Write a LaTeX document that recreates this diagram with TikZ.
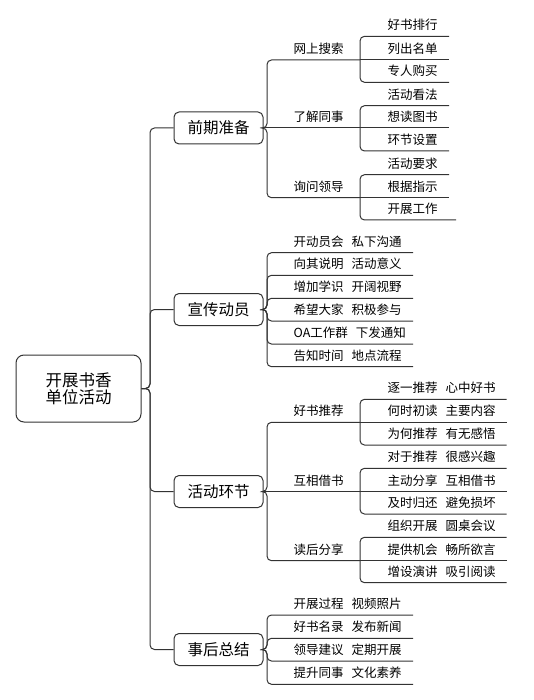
\documentclass[tikz,border=0pt]{standalone}
\usepackage{fontspec}
\newfontfamily\cjk{Noto Sans CJK SC}
\tikzset{
  conn/.style={draw=black!80, line width=1pt, rounded corners=4.5pt},
  lbox/.style={draw=black!80, line width=1pt, rounded corners=5pt, minimum width=89pt,
    minimum height=32pt, inner sep=0pt, font={\cjk\fontsize{15.5pt}{17pt}\selectfont}},
  rootbox/.style={draw=black!80, line width=1pt, rounded corners=8pt, minimum width=125pt,
    minimum height=67pt, inner sep=0pt, align=center, font={\cjk\fontsize{16.5pt}{16.5pt}\selectfont}},
  txt/.style={inner sep=0pt, anchor=base west, font={\cjk\fontsize{12.5pt}{14pt}\selectfont\spaceskip=8pt\relax}},
}
% name, bracket x, underline y, text x, underline end x, text
\newcommand\mmitem[6]{%
  \coordinate (#1-s) at (#2,#3);
  \coordinate (#1-e) at (#5,#3);
  \node[txt] (#1) at (#4,#3-6.5) {#6};}
\begin{document}
\begin{tikzpicture}[x=1pt,y=-1pt]
\useasboundingbox (0,0) rectangle (534,700);
% root and main branches
\node[rootbox] (root) at (78.5,388.5) {开展书香\\单位活动};
\coordinate (rj) at (150,388.5);
\node[lbox] (b1) at (218.5,128) {前期准备};
\node[lbox] (b2) at (218.5,309.5) {宣传动员};
\node[lbox] (b3) at (218.5,491.5) {活动环节};
\node[lbox] (b4) at (218.5,649.5) {事后总结};
\foreach \b in {b1,b2,b3,b4} \draw[conn] (root.east) -- (rj) |- (\b.west);
% ---- group A
\coordinate (b1j) at (267,128);
\mmitem{a1}{267}{60}{293.5}{360}{网上搜索}
\mmitem{a2}{267}{128}{293.5}{360}{了解同事}
\mmitem{a3}{267}{197.7}{293.5}{360}{询问领导}
\draw[conn] (b1.east) -- (b1j) |- (a1-e);
\draw[conn] (b1.east) -- (a2-e);
\draw[conn] (b1.east) -- (b1j) |- (a3-e);
\mmitem{a11}{360}{36.3}{387.5}{449}{好书排行}
\mmitem{a12}{360}{60}{387.5}{449}{列出名单}
\mmitem{a13}{360}{82.3}{387.5}{449}{专人购买}
\mmitem{a21}{360}{105.7}{387.5}{449}{活动看法}
\mmitem{a22}{360}{128}{387.5}{449}{想读图书}
\mmitem{a23}{360}{151}{387.5}{449}{环节设置}
\mmitem{a31}{360}{174.7}{387.5}{449}{活动要求}
\mmitem{a32}{360}{197.7}{387.5}{449}{根据指示}
\mmitem{a33}{360}{220}{387.5}{456}{开展工作}
\foreach \p in {a1,a2,a3}{
  \draw[conn] (\p-e) |- (\p1-e);
  \draw[conn] (\p-e) -- (\p2-e);
  \draw[conn] (\p-e) |- (\p3-e);}
% ---- group B
\coordinate (b2j) at (267,309.5);
\mmitem{p1}{267}{252.7}{293.5}{413}{开动员会 私下沟通}
\mmitem{p2}{267}{275.3}{293.5}{413}{向其说明 活动意义}
\mmitem{p3}{267}{298.3}{293.5}{413}{增加学识 开阔视野}
\mmitem{p4}{267}{321}{293.5}{413}{希望大家 积极参与}
\mmitem{p5}{267}{344}{293.5}{413}{OA工作群 下发通知}
\mmitem{p6}{267}{366.7}{293.5}{413}{告知时间 地点流程}
\foreach \p in {p1,p2,p3,p4,p5,p6} \draw[conn] (b2.east) -- (b2j) |- (\p-e);
% ---- group C
\coordinate (b3j) at (267,491.5);
\mmitem{c1}{267}{422.3}{293.5}{360}{好书推荐}
\mmitem{c2}{267}{491.5}{293.5}{360}{互相借书}
\mmitem{c3}{267}{560.7}{293.5}{360}{读后分享}
\draw[conn] (b3.east) -- (b3j) |- (c1-e);
\draw[conn] (b3.east) -- (c2-e);
\draw[conn] (b3.east) -- (b3j) |- (c3-e);
\mmitem{c11}{360}{399.3}{387.5}{506.7}{逐一推荐 心中好书}
\mmitem{c12}{360}{422.3}{387.5}{506.7}{何时初读 主要内容}
\mmitem{c13}{360}{445}{387.5}{506.7}{为何推荐 有无感悟}
\mmitem{c21}{360}{468.3}{387.5}{506.7}{对于推荐 很感兴趣}
\mmitem{c22}{360}{491.5}{387.5}{506.7}{主动分享 互相借书}
\mmitem{c23}{360}{514}{387.5}{506.7}{及时归还 避免损坏}
\mmitem{c31}{360}{537.3}{387.5}{506.7}{组织开展 圆桌会议}
\mmitem{c32}{360}{560.7}{387.5}{506.7}{提供机会 畅所欲言}
\mmitem{c33}{360}{582.7}{387.5}{506.7}{增设演讲 吸引阅读}
\foreach \p in {c1,c2,c3}{
  \draw[conn] (\p-e) |- (\p1-e);
  \draw[conn] (\p-e) -- (\p2-e);
  \draw[conn] (\p-e) |- (\p3-e);}
% ---- group D
\coordinate (b4j) at (267,649.5);
\mmitem{d1}{267}{615}{293.5}{413}{开展过程 视频照片}
\mmitem{d2}{267}{638.3}{293.5}{413}{好书名录 发布新闻}
\mmitem{d3}{267}{661}{293.5}{413}{领导建议 定期开展}
\mmitem{d4}{267}{684.3}{293.5}{413}{提升同事 文化素养}
\foreach \p in {d1,d2,d3,d4} \draw[conn] (b4.east) -- (b4j) |- (\p-e);
\end{tikzpicture}
\end{document}
